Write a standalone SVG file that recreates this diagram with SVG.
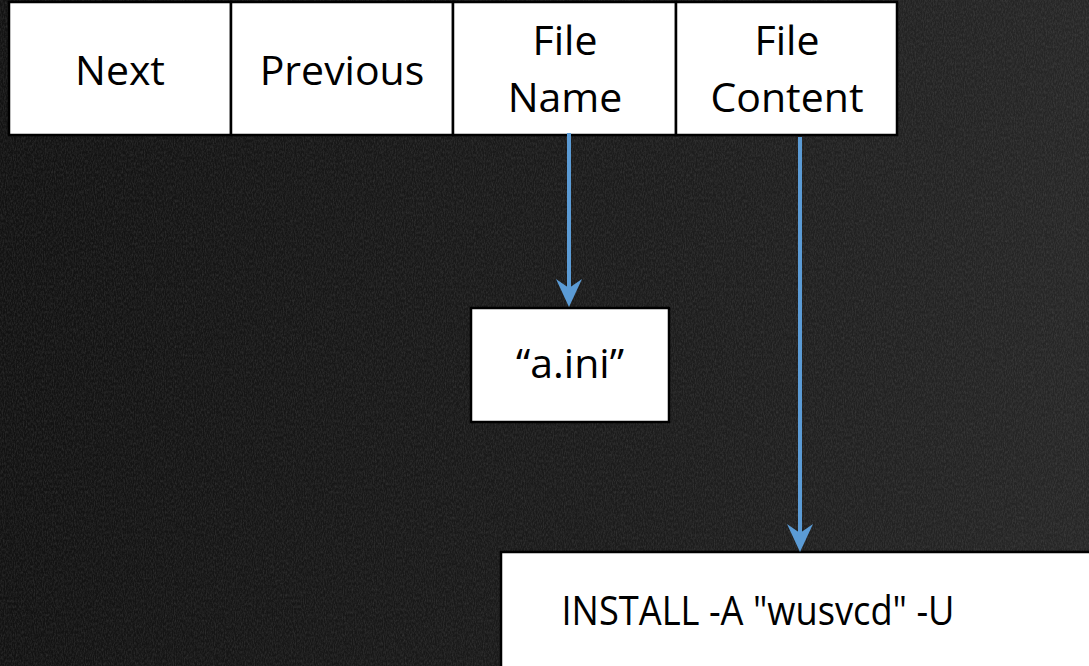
<svg xmlns="http://www.w3.org/2000/svg" width="1089" height="666" viewBox="0 0 1089 666">
  <defs>
    <style>
      .cell { fill: #ffffff; stroke: #000000; stroke-width: 2.5; }
      .lbl { font-family: "Open Sans", "Liberation Sans", sans-serif; font-size: 41px; fill: #000000; text-anchor: middle; }
      .wire { stroke: #5b9bd5; stroke-width: 4; fill: none; }
      .head { fill: #5b9bd5; }
    </style>
    <linearGradient id="shade" x1="0" y1="0" x2="1" y2="0">
      <stop offset="0" stop-color="#121212"/>
      <stop offset="0.6" stop-color="#1c1c1c"/>
      <stop offset="1" stop-color="#272727"/>
    </linearGradient>
    <filter id="grain" x="0" y="0" width="100%" height="100%">
      <feTurbulence type="fractalNoise" baseFrequency="0.9 0.35" numOctaves="3" seed="7" result="n"/>
      <feColorMatrix in="n" type="matrix" values="0 0 0 0 0.3  0 0 0 0 0.3  0 0 0 0 0.3  0 0 0 0.55 -0.18"/>
    </filter>
  </defs>

  <!-- dark textured backdrop -->
  <rect x="0" y="0" width="1089" height="666" fill="url(#shade)"/>
  <rect x="0" y="0" width="1089" height="666" filter="url(#grain)" opacity="0.6"/>

  <!-- list entry record -->
  <g id="next">
    <rect class="cell" x="9" y="2" width="222" height="133"/>
    <text class="lbl" x="120" y="85">Next</text>
  </g>
  <g id="previous">
    <rect class="cell" x="231" y="2" width="222" height="133"/>
    <text class="lbl" x="342" y="85">Previous</text>
  </g>
  <g id="file-name">
    <rect class="cell" x="453" y="2" width="223" height="133"/>
    <text class="lbl" x="565" y="55">File</text>
    <text class="lbl" x="565" y="112">Name</text>
  </g>
  <g id="file-content">
    <rect class="cell" x="676" y="2" width="221" height="133"/>
    <text class="lbl" x="787" y="55">File</text>
    <text class="lbl" x="787" y="112">Content</text>
  </g>

  <!-- pointed-to values -->
  <g id="name-value">
    <rect class="cell" x="471" y="308" width="198" height="114"/>
    <text class="lbl" x="570" y="378">“a.ini”</text>
  </g>
  <g id="content-value">
    <rect class="cell" x="501" y="552" width="600" height="130"/>
    <text class="lbl" x="758" y="625" textLength="393" lengthAdjust="spacingAndGlyphs">INSTALL -A "wusvcd" -U</text>
  </g>

  <!-- pointers -->
  <g id="connectors">
    <line class="wire" x1="569" y1="133" x2="569" y2="290"/>
    <path class="head" d="M569,307 L556,279 L569,288 L582,279 Z"/>
    <line class="wire" x1="800" y1="137" x2="800" y2="535"/>
    <path class="head" d="M800,552 L787,524 L800,533 L813,524 Z"/>
  </g>
</svg>
